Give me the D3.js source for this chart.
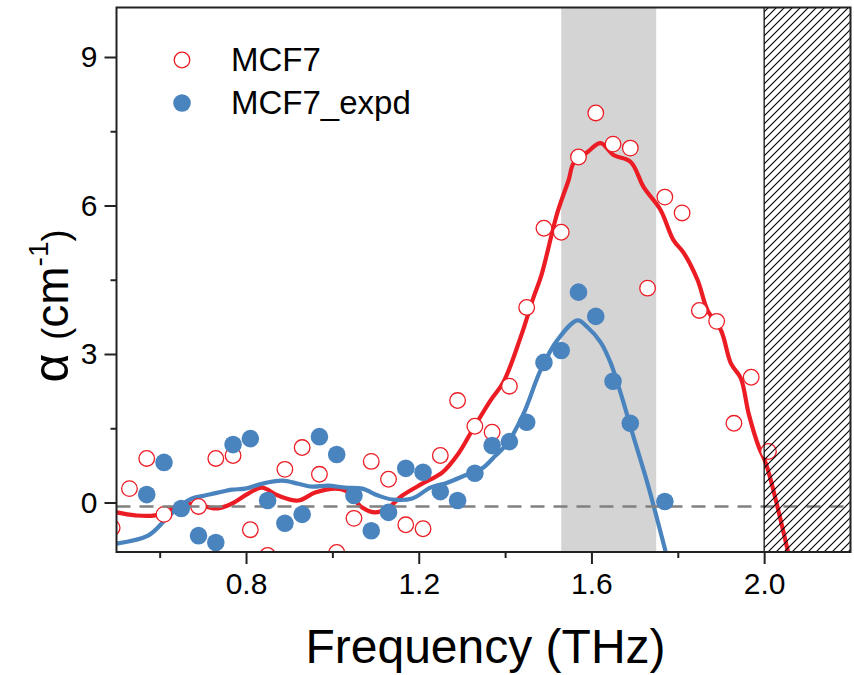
<!DOCTYPE html>
<html>
<head>
<meta charset="utf-8">
<title>MCF7 absorption</title>
<script src="https://d3js.org/d3.v7.min.js"></script>
<style>
  body { margin: 0; background: #fff; }
  svg text { font-family: "Liberation Sans", Arial, sans-serif; fill: #000; }
</style>
</head>
<body>
<div id="chart"></div>
<script>
// measured points (THz, cm^-1)
const freqRed = [0.49, 0.53, 0.57, 0.61, 0.69, 0.73, 0.77, 0.81, 0.85, 0.89, 0.93, 0.97, 1.01, 1.05, 1.09, 1.13, 1.17, 1.21, 1.25, 1.29, 1.33, 1.37, 1.41, 1.45, 1.49, 1.53, 1.57, 1.61, 1.65, 1.69, 1.73, 1.77, 1.81, 1.85, 1.89, 1.93, 1.97, 2.01];
const alphaRed = [-0.51, 0.28, 0.89, -0.24, -0.08, 0.89, 0.95, -0.55, -1.07, 0.67, 1.11, 0.57, -1.01, -0.32, 0.83, 0.47, -0.45, -0.53, 0.95, 2.06, 1.54, 1.42, 2.35, 3.94, 5.54, 5.46, 6.98, 7.87, 7.24, 7.16, 4.33, 6.17, 5.85, 3.88, 3.66, 1.60, 2.53, 1.03];

const freqBlue = [0.57, 0.61, 0.65, 0.69, 0.73, 0.77, 0.81, 0.85, 0.89, 0.93, 0.97, 1.01, 1.05, 1.09, 1.13, 1.17, 1.21, 1.25, 1.29, 1.33, 1.37, 1.41, 1.45, 1.49, 1.53, 1.57, 1.61, 1.65, 1.69, 1.77];
const alphaBlue = [0.16, 0.81, -0.12, -0.67, -0.81, 1.17, 1.29, 0.04, -0.42, -0.24, 1.33, 0.97, 0.14, -0.57, -0.20, 0.69, 0.61, 0.22, 0.04, 0.59, 1.15, 1.23, 1.62, 2.83, 3.07, 4.25, 3.76, 2.45, 1.60, 0.02];

// smoothed curves
const fitRedX = [0.50, 0.543, 0.589, 0.629, 0.666, 0.705, 0.735, 0.768, 0.805, 0.837, 0.874, 0.921, 0.960, 1.007, 1.030, 1.069, 1.099, 1.130, 1.162, 1.208, 1.255, 1.292, 1.324, 1.366, 1.396, 1.436, 1.466, 1.484, 1.521, 1.547, 1.559, 1.591, 1.621, 1.651, 1.691, 1.721, 1.760, 1.790, 1.814, 1.846, 1.869, 1.900, 1.923, 1.946, 1.964, 1.988, 2.004, 2.058];
const fitRedY = [-0.20, -0.26, -0.26, -0.12, -0.02, -0.08, -0.12, -0.02, 0.18, 0.30, 0.14, 0.04, 0.20, 0.28, 0.24, -0.10, -0.20, -0.10, 0.14, 0.38, 0.61, 0.99, 1.46, 2.06, 2.43, 3.34, 4.15, 4.59, 5.85, 6.51, 6.86, 7.08, 7.26, 7.02, 6.88, 6.37, 5.91, 5.30, 5.04, 4.49, 3.88, 3.48, 2.81, 2.51, 1.80, 1.11, 0.79, -1.10];

const fitBlueX = [0.50, 0.573, 0.612, 0.643, 0.675, 0.705, 0.735, 0.768, 0.798, 0.837, 0.884, 0.921, 0.953, 0.990, 1.030, 1.069, 1.106, 1.139, 1.185, 1.227, 1.266, 1.308, 1.347, 1.378, 1.405, 1.443, 1.482, 1.521, 1.568, 1.591, 1.621, 1.644, 1.668, 1.698, 1.730, 1.775];
const fitBlueY = [-0.83, -0.67, -0.36, -0.10, 0.08, 0.14, 0.20, 0.26, 0.28, 0.38, 0.44, 0.38, 0.32, 0.34, 0.30, 0.28, 0.14, 0.06, 0.08, 0.30, 0.40, 0.55, 0.69, 0.95, 1.19, 1.80, 2.67, 3.28, 3.68, 3.54, 3.24, 2.83, 2.20, 1.31, 0.38, -1.10];

const xMajor = [0.8, 1.2, 1.6, 2.0];
const xMinor = [0.6, 1.0, 1.4, 1.8];
const yMajor = [0, 3, 6, 9];
const yMinor = [1.5, 4.5, 7.5];
const band = [1.53, 1.75];
const hatchRange = [2.0, 2.2];
const baseline = -0.08;
const seriesNames = ["MCF7", "MCF7_expd"];

const W = 854, H = 675;
const pL = 116.5, pR = 850.5, pT = 7.5, pB = 552;
const red = "#ec1c24", blue = "#4a84bf";

const x = d3.scaleLinear().domain([0.5, 2.2]).range([pL, pR]);
const y = d3.scaleLinear().domain([-1, 10]).range([pB, pT]);

const svg = d3.select("#chart").append("svg")
  .attr("width", W).attr("height", H);

const defs = svg.append("defs");
defs.append("clipPath").attr("id", "plotclip")
  .append("rect").attr("x", pL).attr("y", pT)
  .attr("width", pR - pL).attr("height", pB - pT);

const pat = defs.append("pattern").attr("id", "hatch")
  .attr("patternUnits", "userSpaceOnUse")
  .attr("width", 8).attr("height", 8);
pat.append("path")
  .attr("d", "M-2,2 L2,-2 M0,8 L8,0 M6,10 L10,6")
  .attr("stroke", "#000").attr("stroke-width", 1.1);

const plot = svg.append("g").attr("clip-path", "url(#plotclip)");

// shaded band
plot.append("rect")
  .attr("x", x(band[0])).attr("y", pT)
  .attr("width", x(band[1]) - x(band[0])).attr("height", pB - pT)
  .attr("fill", "#d4d4d4");

const line = d3.line().x(d => x(d[0])).y(d => y(d[1])).curve(d3.curveCatmullRom);

plot.append("path")
  .datum(d3.zip(fitRedX, fitRedY))
  .attr("d", line).attr("fill", "none")
  .attr("stroke", red).attr("stroke-width", 4.2);

plot.append("path")
  .datum(d3.zip(fitBlueX, fitBlueY))
  .attr("d", line).attr("fill", "none")
  .attr("stroke", blue).attr("stroke-width", 4.2);

plot.selectAll("circle.red")
  .data(d3.zip(freqRed, alphaRed))
  .enter().append("circle")
  .attr("class", "red")
  .attr("cx", d => x(d[0])).attr("cy", d => y(d[1]))
  .attr("r", 7.8)
  .attr("fill", "#fff").attr("stroke", red).attr("stroke-width", 1.3);

plot.append("line")
  .attr("x1", pL).attr("x2", pR)
  .attr("y1", y(baseline)).attr("y2", y(baseline))
  .attr("stroke", "#808080").attr("stroke-width", 2.5)
  .attr("stroke-dasharray", "14,9");

plot.selectAll("circle.blue")
  .data(d3.zip(freqBlue, alphaBlue))
  .enter().append("circle")
  .attr("class", "blue")
  .attr("cx", d => x(d[0])).attr("cy", d => y(d[1]))
  .attr("r", 8.8)
  .attr("fill", blue);

// hatched region
plot.append("rect")
  .attr("x", x(hatchRange[0])).attr("y", pT)
  .attr("width", x(hatchRange[1]) - x(hatchRange[0])).attr("height", pB - pT)
  .attr("fill", "url(#hatch)");
plot.append("line")
  .attr("x1", x(hatchRange[0])).attr("x2", x(hatchRange[0]))
  .attr("y1", pT).attr("y2", pB)
  .attr("stroke", "#000").attr("stroke-width", 1.2);

// frame
svg.append("rect")
  .attr("x", pL).attr("y", pT)
  .attr("width", pR - pL).attr("height", pB - pT)
  .attr("fill", "none").attr("stroke", "#222").attr("stroke-width", 2);

// axes
svg.append("g").attr("transform", `translate(0,${pB})`)
  .call(d3.axisBottom(x).tickValues(xMajor).tickSize(12).tickPadding(9).tickFormat(d3.format(".1f")));
svg.append("g").attr("transform", `translate(0,${pB})`)
  .call(d3.axisBottom(x).tickValues(xMinor).tickSize(6).tickFormat(""));
svg.append("g").attr("transform", `translate(${pL},0)`)
  .call(d3.axisLeft(y).tickValues(yMajor).tickSize(12).tickPadding(7));
svg.append("g").attr("transform", `translate(${pL},0)`)
  .call(d3.axisLeft(y).tickValues(yMinor).tickSize(6).tickFormat(""));

svg.selectAll(".domain").remove();
svg.selectAll(".tick line").attr("stroke", "#222").attr("stroke-width", 2);
svg.selectAll(".tick text")
  .style("font-family", '"Liberation Sans", Arial, sans-serif')
  .style("font-size", "30px").attr("fill", "#000");

// axis titles
svg.append("text")
  .attr("x", (pL + pR) / 2 + 2).attr("y", 663)
  .attr("text-anchor", "middle")
  .style("font-size", "48px")
  .text("Frequency (THz)");

const yt = svg.append("text")
  .attr("transform", "translate(68,306) rotate(-90)")
  .attr("text-anchor", "middle")
  .style("font-size", "46px");
yt.append("tspan").style("font-size", "50px").text("α ");
yt.append("tspan").style("font-size", "36px").text("(");
yt.append("tspan").text("cm");
yt.append("tspan").style("font-size", "28px").attr("dy", -20).text("-1");
yt.append("tspan").style("font-size", "36px").attr("dy", 20).text(")");

// legend
const leg = svg.append("g");
const legRows = [
  { name: seriesNames[0], y: 60, fill: "#fff", stroke: red, r: 7.8 },
  { name: seriesNames[1], y: 103, fill: blue, stroke: "none", r: 8.8 }
];
legRows.forEach(function(d) {
  leg.append("circle").attr("cx", 182).attr("cy", d.y).attr("r", d.r)
    .attr("fill", d.fill).attr("stroke", d.stroke).attr("stroke-width", 1.3);
  leg.append("text").attr("x", 231).attr("y", d.y + 11)
    .style("font-size", "33px").text(d.name);
});
</script>
</body>
</html>
